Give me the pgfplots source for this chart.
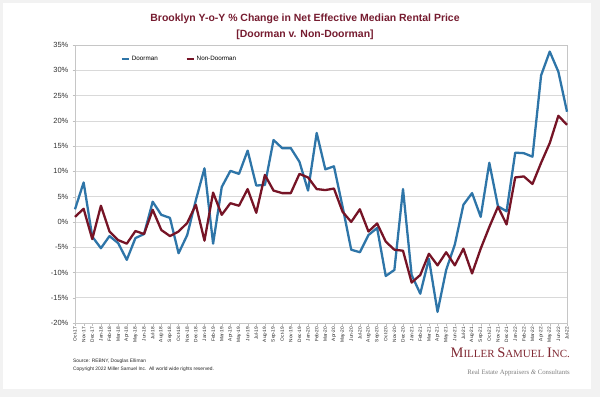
\documentclass[border=0pt]{standalone}
\usepackage{fontspec}
\setmainfont{Liberation Sans}
\newfontfamily\seriffont{Liberation Serif}
\usepackage{pgfplots}
\pgfplotsset{compat=1.18}
\usetikzlibrary{backgrounds,calc}
\definecolor{dblue}{RGB}{46,117,168}
\definecolor{maroon}{RGB}{118,20,38}
\definecolor{ttl}{RGB}{118,28,48}
\definecolor{logo}{RGB}{128,40,50}
\begin{document}
\begin{tikzpicture}[x=1bp,y=1bp]
\begin{axis}[
  scale only axis, width=492bp, height=278bp,
  xmin=0, xmax=57, ymin=-20, ymax=35,
  ytick={-20,-15,...,35},
  yticklabel={\pgfmathprintnumber{\tick}\%},
  /pgf/number format/assume math mode=true,
  xtick={0,...,57},
  xticklabels={Oct-17,Nov-17,Dec-17,Jan-18,Feb-18,Mar-18,Apr-18,May-18,Jun-18,Jul-18,Aug-18,Sep-18,Oct-18,Nov-18,Dec-18,Jan-19,Feb-19,Mar-19,Apr-19,May-19,Jun-19,Jul-19,Aug-19,Sep-19,Oct-19,Nov-19,Dec-19,Jan-20,Feb-20,Mar-20,Apr-20,May-20,Jun-20,Jul-20,Aug-20,Sep-20,Oct-20,Nov-20,Dec-20,Jan-21,Feb-21,Mar-21,Apr-21,May-21,Jun-21,Jul-21,Aug-21,Sep-21,Oct-21,Nov-21,Dec-21,Jan-22,Feb-22,Mar-22,Apr-22,May-22,Jun-22,Jul-22},
  xticklabel style={rotate=90, anchor=east, font=\fontsize{4.8}{5}\selectfont, text=black!85, inner sep=1pt},
  yticklabel style={font=\fontsize{7.5}{8}\selectfont, text=black!80, inner sep=1pt, xshift=-3bp},
  ymajorgrids, major grid style={gray!30, line width=0.6pt},
  axis line style={gray!45},
  tick style={gray!50},
  major tick length=2.5bp,
  tick align=outside,
  xtick pos=bottom, ytick pos=left,
  clip=false,
  legend style={at={(0.093,0.95)}, anchor=west, draw=none, fill=none,
    font=\fontsize{6.3}{7}\selectfont, legend columns=2,
    /tikz/every even column/.append style={column sep=26bp},
    inner sep=0pt},
  legend cell align=left,
  legend image code/.code={\draw[#1, line width=2pt] (0bp,0bp) -- (7bp,0bp);},
]
\coordinate (O) at (rel axis cs:0,0);
\addplot[dblue, line width=2.3pt, line join=round] coordinates {
(0,2.5)(1,7.8)(2,-2.9)(3,-5.2)(4,-2.8)(5,-4.2)(6,-7.5)(7,-3.2)(8,-2.4)(9,4.0)
(10,1.4)(11,0.8)(12,-6.2)(13,-2.6)(14,4.3)(15,10.6)(16,-4.3)(17,6.9)(18,10.1)(19,9.5)
(20,14.1)(21,7.2)(22,7.3)(23,16.2)(24,14.6)(25,14.6)(26,11.9)(27,6.2)(28,17.6)(29,10.4)
(30,11.0)(31,3.0)(32,-5.5)(33,-6.0)(34,-2.6)(35,-1.2)(36,-10.7)(37,-9.5)(38,6.5)(39,-10.5)
(40,-14.2)(41,-7.3)(42,-17.8)(43,-9.5)(44,-4.5)(45,3.4)(46,5.7)(47,1.0)(48,11.7)(49,3.1)
(50,2.1)(51,13.7)(52,13.6)(53,12.9)(54,29.0)(55,33.7)(56,29.7)(57,21.8)};
\addlegendentry{Doorman}
\addplot[maroon, line width=2.3pt, line join=round] coordinates {
(0,1.0)(1,2.6)(2,-3.4)(3,3.2)(4,-1.9)(5,-3.6)(6,-4.3)(7,-1.8)(8,-2.4)(9,2.4)
(10,-1.6)(11,-2.8)(12,-1.9)(13,-0.2)(14,3.4)(15,-3.7)(16,5.8)(17,1.4)(18,3.7)(19,3.2)
(20,6.5)(21,1.8)(22,9.3)(23,6.2)(24,5.7)(25,5.7)(26,9.5)(27,8.8)(28,6.5)(29,6.3)
(30,6.6)(31,2.0)(32,0.0)(33,2.5)(34,-1.9)(35,-0.3)(36,-3.9)(37,-5.5)(38,-5.7)(39,-12.0)
(40,-10.5)(41,-6.3)(42,-8.6)(43,-6.0)(44,-8.6)(45,-5.3)(46,-10.2)(47,-5.3)(48,-1.0)(49,3.0)
(50,-0.5)(51,8.8)(52,9.0)(53,7.5)(54,11.7)(55,15.6)(56,21.0)(57,19.2)};
\addlegendentry{Non-Doorman}
\end{axis}
\begin{scope}[shift={($(O)+(-75,-74)$)}]
\begin{scope}[on background layer]
\fill[gray!10] (0,0) rectangle (600,397);
\fill[white] (3,8) rectangle (591,394);
\end{scope}
\node[font=\fontsize{10.5}{16}\selectfont\bfseries, text=ttl, align=center] at (305,370)
  {Brooklyn Y-o-Y \% Change in Net Effective Median Rental Price\\{}[Doorman v. Non-Doorman]};
\node[anchor=west, font=\fontsize{4.9}{5}\selectfont, text=black!85, inner sep=0pt] at (73,36) {Source: REBNY, Douglas Elliman};
\node[anchor=west, font=\fontsize{4.9}{5}\selectfont, text=black!85, inner sep=0pt] at (73,27.5) {Copyright 2022 Miller Samuel Inc.\ \ All world wide rights reserved.};
\node[anchor=east, text=logo, inner sep=0pt, font=\seriffont] at (570,44)
  {{\fontsize{14.5}{15}\selectfont M}{\fontsize{11}{12}\selectfont ILLER }{\fontsize{14.5}{15}\selectfont S}{\fontsize{11}{12}\selectfont AMUEL }{\fontsize{14.5}{15}\selectfont I}{\fontsize{11}{12}\selectfont NC.}};
\node[anchor=east, text=black!50, inner sep=0pt, font=\seriffont\fontsize{6.8}{7}\selectfont] at (570,24)
  {Real Estate Appraisers \textit{\&} Consultants};
\pgfresetboundingbox
\path[use as bounding box] (0,0) rectangle (600,397);
\end{scope}
\end{tikzpicture}
\end{document}
